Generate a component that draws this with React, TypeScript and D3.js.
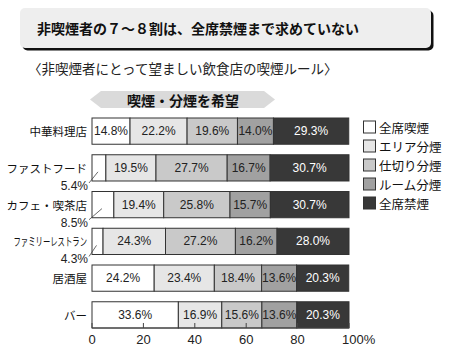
import React from "react";
import * as d3 from "d3";

const categories = ["中華料理店", "ファストフード", "カフェ・喫茶店", "ファミリーレストラン", "居酒屋", "バー"];
const seriesNames = ["全席喫煙", "エリア分煙", "仕切り分煙", "ルーム分煙", "全席禁煙"];
const s0 = [14.8, 5.4, 8.5, 4.3, 24.2, 33.6];
const s1 = [22.2, 19.5, 19.4, 24.3, 23.4, 16.9];
const s2 = [19.6, 27.7, 25.8, 27.2, 18.4, 15.6];
const s3 = [14.0, 16.7, 15.7, 16.2, 13.6, 13.6];
const s4 = [29.3, 30.7, 30.7, 28.0, 20.3, 20.3];
const xTicks = [0, 20, 40, 60, 80, 100];
const colors = ["#ffffff", "#e6e6e6", "#c9c9c9", "#a1a1a1", "#383838"];

const title = "非喫煙者の７～８割は、全席禁煙まで求めていない";
const subtitle = "〈非喫煙者にとって望ましい飲食店の喫煙ルール〉";
const banner = "喫煙・分煙を希望";

const JP = "'Noto Sans CJK JP', 'Noto Sans', sans-serif";
const NUM = "'Liberation Sans', Arial, sans-serif";

export default function App() {
  const series = [s0, s1, s2, s3, s4];
  const x = d3.scaleLinear().domain([0, 100]).range([92, 349]);
  const y = d3.scaleBand().domain(categories).range([118, 328]).paddingInner(0.286).paddingOuter(0);
  const bh = y.bandwidth();
  const axisY = 328;

  return (
    <svg width={449} height={356} style={{ position: "absolute", left: 0, top: 0, background: "#fff" }}>
      {/* title box */}
      <rect x={22.5} y={10.5} width={411} height={40} rx={5} fill="#111" />
      <rect x={20} y={8} width={411} height={40} rx={5} fill="#eeeeee" />
      <text x={37} y={28} dominantBaseline="central" fontFamily={JP} fontSize={14} fontWeight={700} fill="#111">{title}</text>
      <text x={28} y={68} dominantBaseline="central" fontFamily={JP} fontSize={13.5} fill="#222">{subtitle}</text>

      {/* banner arrow */}
      <polygon points="90,99.5 101,91 264,91 275,99.5 264,108 101,108" fill="#dadada" />
      <text x={183} y={99.5} dominantBaseline="central" textAnchor="middle" fontFamily={JP} fontSize={14} fontWeight={700} fill="#111">{banner}</text>

      {categories.map((c, i) => {
        let acc = 0;
        const yy = y(c)!;
        const long = c.length > 8;
        return (
          <g key={c}>
            {long ? (
              <text transform={`translate(87,${yy + bh / 2}) scale(0.64,1)`} dominantBaseline="central" textAnchor="end" fontFamily={JP} fontSize={11.5} fill="#111">{c}</text>
            ) : (
              <text x={87} y={yy + bh / 2} dominantBaseline="central" textAnchor="end" fontFamily={JP} fontSize={11.5} fill="#111">{c}</text>
            )}
            {series.map((s, k) => {
              const v = s[i];
              const x0 = x(acc);
              acc += v;
              const x1 = x(Math.min(acc, 100));
              const w = x1 - x0;
              const small = v < 10 && k === 0;
              const label = v.toFixed(1) + "%";
              return (
                <g key={k}>
                  <rect x={x0} y={yy} width={w} height={bh} fill={colors[k]} stroke="#333" strokeWidth={1} />
                  {!small && (
                    <text x={(x0 + x1) / 2} y={yy + bh / 2} dominantBaseline="central" textAnchor="middle" fontFamily={NUM} fontSize={w < 32 ? 11 : 12} letterSpacing={w < 32 ? -0.3 : 0} fill={k === 4 ? "#fff" : "#222"}>{label}</text>
                  )}
                  {small && (
                    <g>
                      <line x1={(x0 + x1) / 2 - 1} y1={yy + bh / 2 + 4} x2={89} y2={yy + bh + 2} stroke="#444" strokeWidth={0.8} />
                      <text x={88} y={yy + bh + 5} dominantBaseline="central" textAnchor="end" fontFamily={NUM} fontSize={12} fill="#222">{label}</text>
                    </g>
                  )}
                </g>
              );
            })}
          </g>
        );
      })}

      {/* axis */}
      <line x1={x(0)} x2={x(100)} y1={axisY} y2={axisY} stroke="#444" strokeWidth={1} />
      {xTicks.map((t) => (
        <g key={t}>
          <line x1={x(t)} x2={x(t)} y1={axisY} y2={axisY - 5} stroke="#444" strokeWidth={1} />
          <text x={x(t)} y={axisY + 11} dominantBaseline="central" textAnchor={t === 100 ? "start" : "middle"} dx={t === 100 ? -7 : 0} fontFamily={NUM} fontSize={13} fill="#222">{t === 100 ? "100%" : String(t)}</text>
        </g>
      ))}

      {/* legend */}
      {seriesNames.map((n, k) => (
        <g key={n}>
          <rect x={363.5} y={121 + k * 19} width={12} height={12} fill={colors[k]} stroke="#333" strokeWidth={1} />
          <text x={379} y={127 + k * 19} dominantBaseline="central" fontFamily={JP} fontSize={12.5} fill="#111">{n}</text>
        </g>
      ))}
    </svg>
  );
}
